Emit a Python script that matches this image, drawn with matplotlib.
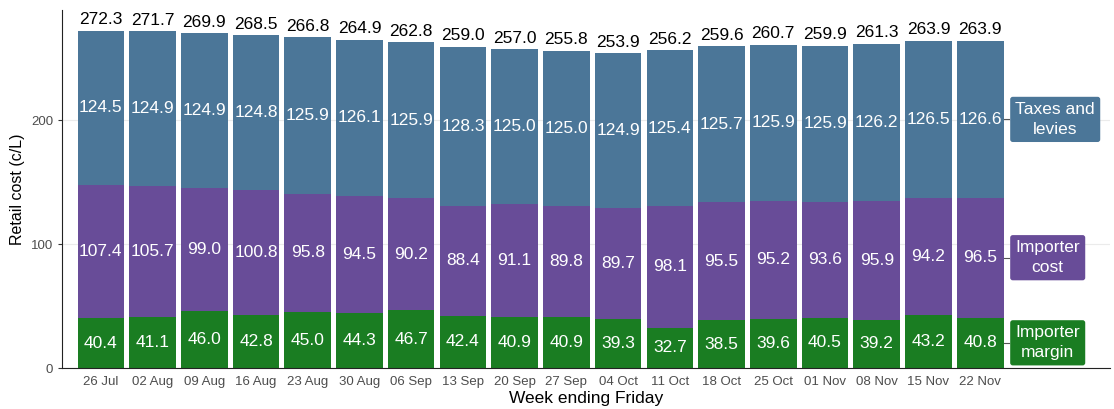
"""Stacked bar chart of weekly retail fuel cost components."""

import numpy as np
import matplotlib.pyplot as plt

plt.rcParams['font.family'] = ['Liberation Sans', 'DejaVu Sans']

weeks = ['26 Jul', '02 Aug', '09 Aug', '16 Aug', '23 Aug', '30 Aug', '06 Sep',
         '13 Sep', '20 Sep', '27 Sep', '04 Oct', '11 Oct', '18 Oct', '25 Oct',
         '01 Nov', '08 Nov', '15 Nov', '22 Nov']
margin = [40.4, 41.1, 46.0, 42.8, 45.0, 44.3, 46.7, 42.4, 40.9, 40.9, 39.3,
          32.7, 38.5, 39.6, 40.5, 39.2, 43.2, 40.8]
cost = [107.4, 105.7, 99.0, 100.8, 95.8, 94.5, 90.2, 88.4, 91.1, 89.8, 89.7,
        98.1, 95.5, 95.2, 93.6, 95.9, 94.2, 96.5]
taxes = [124.5, 124.9, 124.9, 124.8, 125.9, 126.1, 125.9, 128.3, 125.0, 125.0,
         124.9, 125.4, 125.7, 125.9, 125.9, 126.2, 126.5, 126.6]
totals = [272.3, 271.7, 269.9, 268.5, 266.8, 264.9, 262.8, 259.0, 257.0, 255.8,
          253.9, 256.2, 259.6, 260.7, 259.9, 261.3, 263.9, 263.9]

series = [('Importer\nmargin', margin, '#1a7d22'),
          ('Importer\ncost', cost, '#684c98'),
          ('Taxes and\nlevies', taxes, '#4b7698')]

fig = plt.figure(figsize=(11.14, 4.09), dpi=100)
ax = fig.add_axes([0.0557, 0.100, 0.9403, 0.876])

x = np.arange(len(weeks))
bottom = np.zeros(len(weeks))
for name, vals, color in series:
    vals = np.array(vals)
    ax.bar(x, vals, bottom=bottom, width=0.9, color=color, zorder=2)
    for xi, b, v in zip(x, bottom, vals):
        ax.text(xi, b + v / 2, f'{v:.1f}', ha='center', va='center',
                color='white', fontsize=12.5, zorder=3)
    # right-hand label next to the last bar
    ymid = bottom[-1] + vals[-1] / 2
    ax.plot([x[-1] + 0.45, x[-1] + 0.56], [ymid, ymid], color='#555555',
            lw=0.8, zorder=3, clip_on=False)
    ax.text(x[-1] + 0.68, ymid, name, ha='left', va='center', color='white',
            fontsize=12.5, linespacing=1.4, multialignment='center', zorder=4,
            bbox=dict(boxstyle='round,pad=0.3,rounding_size=0.15',
                      fc=color, ec='none'))
    bottom += vals

for xi, t in zip(x, totals):
    ax.text(xi, t + 3, f'{t:.1f}', ha='center', va='bottom', fontsize=12.5,
            color='black', zorder=3)

ax.set_xlim(-0.75, len(weeks) - 1 + 2.5)
ax.set_ylim(0, 289)
ax.set_xticks(x)
ax.set_xticklabels(weeks, fontsize=9.5, color='#4d4d4d')
ax.set_yticks([0, 100, 200])
ax.set_yticklabels(['0', '100', '200'], fontsize=9.5, color='#4d4d4d')
ax.tick_params(axis='x', length=0, pad=6)
ax.tick_params(axis='y', length=3, color='#333333')
ax.yaxis.grid(True, color='#ebebeb', lw=0.8, zorder=0)
ax.set_axisbelow(True)
for s in ['top', 'right']:
    ax.spines[s].set_visible(False)
ax.spines['left'].set_color('#222222')
ax.spines['bottom'].set_color('#222222')
ax.set_xlabel('Week ending Friday', fontsize=12.5, labelpad=2)
ax.set_ylabel('Retail cost (c/L)', fontsize=11.5)

fig.savefig('out.png', dpi=100)
